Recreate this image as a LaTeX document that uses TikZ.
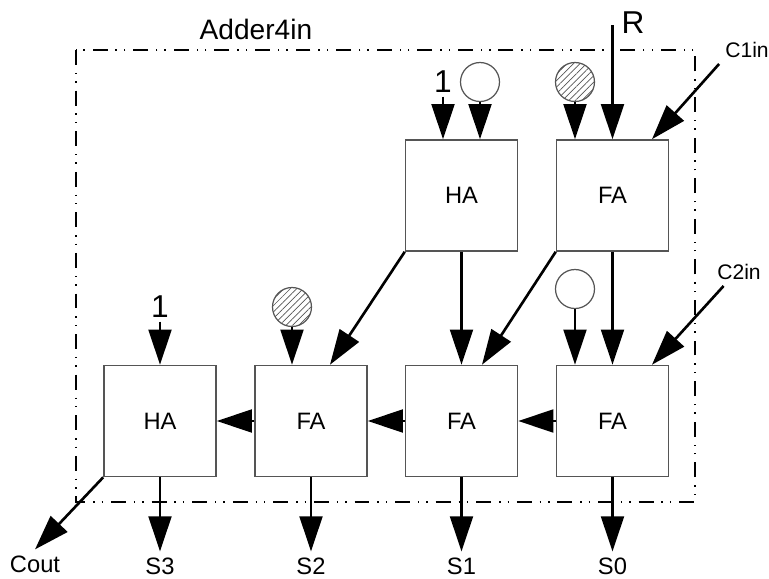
\documentclass[tikz,border=0pt]{standalone}
\usepackage{fontspec}
\setmainfont{Liberation Sans}
\usetikzlibrary{arrows.meta, patterns.meta}
\definecolor{boxgray}{HTML}{555555}

\begin{document}
\begin{tikzpicture}[
    x=0.02cm, y=-0.02cm,
    block/.style={draw=boxgray, line width=0.9pt, minimum width=2.24cm, minimum height=2.22cm, inner sep=0pt, font=\fontsize{13.5}{15}\selectfont},
    wire/.style={-{Triangle[length=20pt, width=13pt]}, line width=1.5pt},
    bit/.style={circle, draw=boxgray, line width=0.7pt, minimum size=0.78cm, inner sep=0pt},
    setbit/.style={bit, pattern={Lines[angle=45, distance=2.6pt, line width=0.4pt]}, pattern color=boxgray},
    port/.style={font=\fontsize{13.5}{15}\selectfont},
    const/.style={font=\fontsize{18}{20}\selectfont, inner sep=2pt},
    frame/.style={line width=0.9pt, dash pattern=on 8.5pt off 4.5pt on 0.8pt off 4pt on 0.8pt off 4.5pt}
]
\useasboundingbox (0,0) rectangle (769,579);

% Module outline
\draw[frame] (76,50) rectangle (695,502);
\node[font=\fontsize{16}{18}\selectfont] (title) at (256,29) {Adder4in};

% Top row
\node[block] (ha1) at (461.5,195.5) {HA};
\node[block] (fa1) at (612.5,195.5) {FA};

% Bottom row
\node[block] (ha0) at (160,421) {HA};
\node[block] (fa2) at (311,421) {FA};
\node[block] (fa3) at (461.5,421) {FA};
\node[block] (fa4) at (612.5,421) {FA};

% Constant and operand bits
\node[const] (one1) at (443,82) {1};
\node[bit] (b1) at (480,82) {};
\node[setbit] (b2) at (575,82) {};
\node[const] (one0) at (160,307) {1};
\node[setbit] (b3) at (292,307) {};
\node[bit] (b4) at (575,289) {};

\draw[wire] (one1.south) -- (one1 |- ha1.north);
\draw[wire] (b1.south) -- (b1 |- ha1.north);
\draw[wire] (b2.south) -- (b2 |- fa1.north);
\draw[wire] (one0.south) -- (one0 |- ha0.north);
\draw[wire] (b3.south) -- (b3 |- fa2.north);
\draw[wire] (b4.south) -- (b4 |- fa4.north);

% R and carry inputs
\coordinate (rin) at (612.5,25);
\node[const] (r) at (633,23) {R};
\draw[wire] (rin) -- (fa1.north);

\node[port, font=\fontsize{12}{14}\selectfont] (c1) at (747,50) {C1in};
\draw[wire] (c1.south west) -- ([xshift=0.79cm]fa1.north);
\node[port, font=\fontsize{12}{14}\selectfont] (c2) at (739,272) {C2in};
\draw[wire] ([xshift=0.25cm]c2.south west) -- ([xshift=0.79cm]fa4.north);

% Between the rows
\draw[wire] (ha1.south) -- (fa3.north);
\draw[wire] (fa1.south) -- (fa4.north);
\draw[wire] (ha1.south west) -- ([xshift=0.38cm]fa2.north);
\draw[wire] (fa1.south west) -- ([xshift=0.41cm]fa3.north);

% Carry chain
\foreach \a/\b in {fa4/fa3, fa3/fa2, fa2/ha0} {
    \draw[wire] (\a.west) -- (\b.east);
}

% Outputs
\coordinate (base) at (0,566);
\foreach \blk/\lbl in {ha0/S3, fa2/S2, fa3/S1, fa4/S0} {
    \node[port] (\lbl) at (\blk.south |- base) {\lbl};
    \draw[wire] (\blk.south) -- (\lbl.north);
}
\node[port] (cout) at (35,564) {Cout};
\draw[wire] (ha0.south west) -- (cout.north);

\end{tikzpicture}
\end{document}
